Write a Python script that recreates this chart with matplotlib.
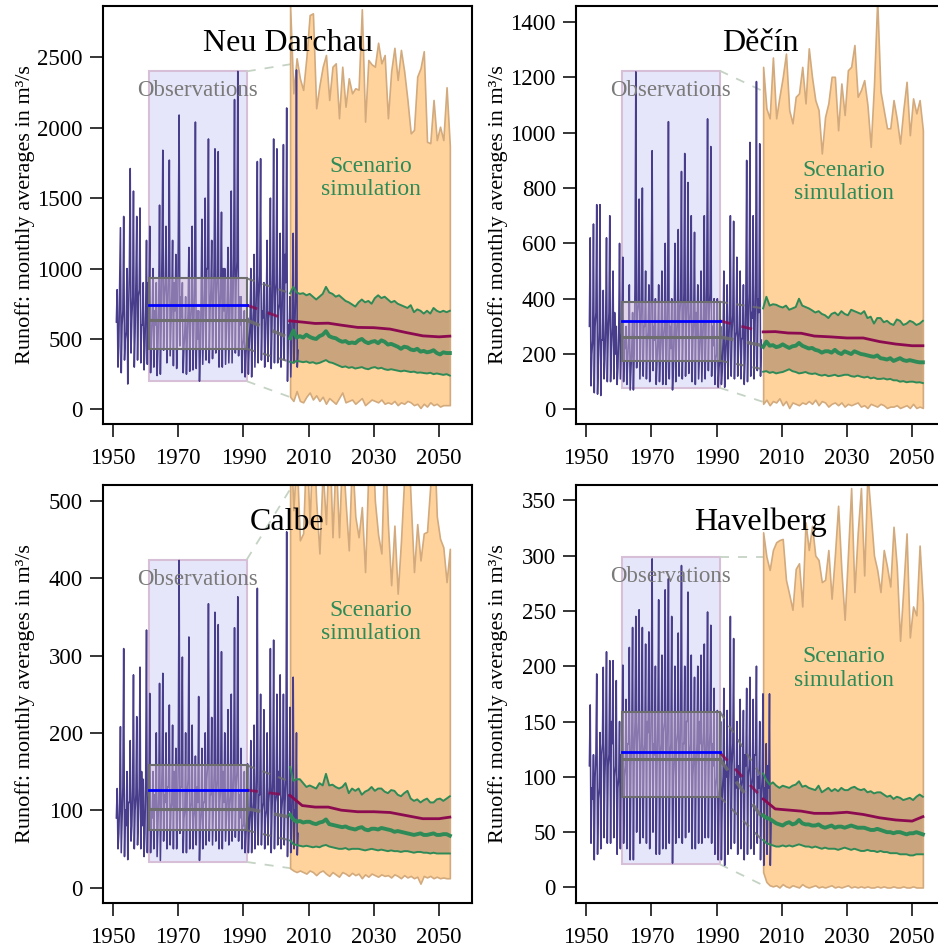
import numpy as np
import matplotlib.pyplot as plt
from matplotlib.patches import Rectangle

plt.rcParams['font.family'] = ['Liberation Serif', 'DejaVu Serif']

YLABEL = 'Runoff: monthly averages in m³/s'

# ---------------------------------------------------------------------------
# Observed runoff: four values per year (winter, spring peak, autumn low,
# early-winter rise)
# ---------------------------------------------------------------------------
obs_start = 1951

# Neu Darchau 1951-2006
nd_mid = [620, 900, 700, 550, 1000, 800, 900, 850, 600, 700,
          800, 650, 600, 750, 1100, 900, 950, 800, 700, 1200,
          650, 550, 700, 750, 900, 500, 800, 850, 1000, 850,
          1050, 950, 850, 700, 800, 850, 1100, 1050, 600, 500,
          480, 600, 700, 900, 950, 650, 750, 700, 1000, 900,
          750, 950, 900, 500, 700, 800]
nd_peak = [850, 1290, 1370, 1000, 1710, 1550, 1370, 1430, 900, 1200,
           1300, 1000, 900, 1450, 1840, 1300, 1770, 1200, 1100, 2090,
           900, 800, 1150, 1300, 2040, 700, 1350, 1500, 1920, 1200,
           1850, 1830, 1400, 1000, 1150, 1550, 2200, 2400, 800, 700,
           650, 1000, 1100, 1760, 1780, 900, 1200, 1500, 1920, 1850,
           1250, 1880, 2140, 800, 1250, 2410]
nd_low = [300, 260, 350, 180, 400, 300, 350, 330, 280, 320,
          260, 300, 240, 250, 420, 330, 380, 310, 290, 450,
          260, 250, 270, 280, 290, 200, 320, 350, 330, 360,
          400, 300, 300, 320, 330, 330, 400, 380, 260, 230,
          250, 230, 300, 330, 350, 300, 340, 290, 330, 330,
          300, 350, 200, 230, 330, 300]
nd_sec = [450, 600, 500, 700, 650, 550, 800, 600, 450, 900,
          500, 700, 450, 600, 800, 700, 600, 900, 550, 800,
          450, 500, 600, 550, 700, 400, 600, 1000, 700, 650,
          800, 700, 1000, 550, 600, 700, 900, 800, 450, 400,
          450, 550, 600, 800, 700, 500, 650, 600, 800, 700,
          550, 1100, 600, 450, 600, 420]

# Dečín 1951-2003
de_mid = [300, 250, 350, 280, 250, 320, 350, 300, 200, 280,
          300, 220, 250, 220, 450, 380, 400, 300, 280, 450,
          250, 250, 280, 300, 400, 220, 300, 320, 400, 420,
          400, 350, 330, 260, 280, 340, 450, 420, 230, 200,
          180, 250, 260, 350, 340, 280, 300, 260, 400, 420,
          330, 450, 350]
de_peak = [620, 670, 740, 740, 430, 620, 700, 500, 300, 600,
           550, 300, 450, 350, 1220, 760, 800, 500, 450, 935,
           400, 450, 500, 600, 1040, 400, 600, 650, 860, 925,
           820, 700, 640, 450, 500, 700, 1050, 950, 400, 400,
           300, 500, 450, 700, 680, 550, 500, 450, 900, 965,
           700, 1185, 960]
de_low = [85, 60, 55, 50, 110, 100, 100, 110, 90, 110,
          100, 90, 70, 70, 150, 110, 120, 110, 100, 140,
          90, 100, 90, 90, 110, 70, 100, 120, 110, 120,
          130, 100, 90, 110, 100, 110, 140, 120, 90, 80,
          90, 80, 110, 120, 110, 120, 110, 90, 100, 120,
          110, 140, 120]
de_sec = [200, 300, 180, 250, 180, 260, 220, 350, 150, 200,
          250, 180, 150, 200, 350, 250, 300, 250, 200, 300,
          180, 200, 250, 200, 300, 150, 250, 350, 280, 300,
          300, 250, 350, 200, 220, 260, 350, 300, 180, 150,
          140, 180, 220, 280, 260, 220, 250, 180, 300, 350,
          250, 400, 250]

# Calbe 1951-2006
ca_mid = [90, 110, 130, 80, 110, 130, 120, 130, 80, 140,
          120, 90, 100, 120, 150, 110, 130, 110, 100, 170,
          130, 100, 140, 110, 100, 110, 100, 110, 160, 120,
          150, 140, 130, 110, 120, 120, 150, 150, 90, 80,
          85, 100, 110, 150, 120, 110, 100, 130, 140, 120,
          120, 120, 140, 100, 120, 90]
ca_peak = [128, 208, 309, 150, 190, 275, 221, 285, 140, 333,
           251, 150, 200, 264, 277, 200, 236, 210, 180, 423,
           298, 200, 324, 210, 170, 247, 180, 200, 367, 220,
           356, 340, 305, 200, 230, 250, 336, 376, 180, 150,
           160, 190, 210, 387, 250, 230, 200, 309, 320, 250,
           275, 250, 460, 233, 272, 200]
ca_low = [50, 45, 40, 36, 60, 50, 55, 50, 40, 45,
          45, 50, 40, 35, 60, 50, 55, 50, 50, 70,
          45, 45, 50, 50, 55, 35, 50, 55, 60, 55,
          60, 50, 50, 60, 55, 60, 65, 60, 50, 45,
          45, 45, 50, 55, 55, 50, 55, 45, 50, 55,
          50, 55, 40, 45, 50, 42]
ca_sec = [70, 90, 100, 110, 80, 100, 90, 150, 70, 110,
          100, 120, 80, 90, 120, 130, 100, 150, 90, 130,
          90, 120, 100, 90, 130, 80, 110, 140, 120, 100,
          120, 110, 150, 90, 100, 110, 130, 120, 80, 70,
          75, 90, 90, 120, 100, 90, 110, 100, 110, 150,
          100, 110, 120, 80, 100, 70]

# Havelberg 1951-2006
ha_mid = [110, 80, 120, 90, 130, 130, 120, 130, 110, 100,
          120, 110, 130, 140, 150, 150, 140, 130, 140, 170,
          120, 150, 130, 150, 160, 130, 120, 140, 160, 130,
          150, 130, 120, 130, 130, 140, 140, 140, 110, 100,
          90, 100, 100, 130, 130, 90, 100, 100, 110, 110,
          100, 120, 90, 100, 80, 90]
ha_peak = [165, 120, 193, 140, 199, 213, 205, 205, 187, 150,
           201, 170, 217, 235, 245, 251, 235, 220, 231, 297,
           200, 260, 210, 269, 279, 245, 200, 230, 291, 200,
           267, 210, 190, 200, 210, 220, 249, 237, 180, 160,
           150, 180, 160, 245, 225, 150, 170, 160, 180, 190,
           170, 200, 150, 175, 130, 175]
ha_low = [40, 25, 30, 35, 45, 40, 40, 45, 30, 35,
          40, 35, 25, 25, 50, 40, 45, 40, 35, 50,
          30, 30, 35, 35, 40, 22, 40, 45, 40, 45,
          50, 35, 35, 40, 40, 45, 45, 40, 30, 25,
          25, 20, 30, 35, 40, 30, 35, 25, 30, 35,
          30, 40, 25, 20, 30, 20]
ha_sec = [90, 100, 80, 120, 100, 110, 150, 100, 90, 120,
          100, 130, 110, 120, 130, 110, 120, 150, 110, 130,
          110, 120, 140, 110, 120, 100, 130, 110, 130, 150,
          120, 100, 110, 150, 120, 110, 120, 130, 90, 80,
          80, 110, 90, 110, 100, 110, 90, 120, 100, 90,
          120, 100, 80, 90, 110, 60]

# reference period 1961-1990: [min, max], [q25, median, q75], mean
nd_ref_range, nd_ref_box, nd_ref_mean = [200, 2400], [430, 634, 930], 741
de_ref_range, de_ref_box, de_ref_mean = [78, 1224], [176, 262, 389], 320
ca_ref_range, ca_ref_box, ca_ref_mean = [33, 424], [74, 102, 158], 126
ha_ref_range, ha_ref_box, ha_ref_mean = [21, 299], [82, 116, 159], 122

# ---------------------------------------------------------------------------
# Scenario ensemble 2004-2053: envelope, 25/50/75 % quantiles, smoothed mean
# ---------------------------------------------------------------------------
scen_years = np.arange(2004, 2054) + 0.3
trend_years = [2004.3, 2008, 2012, 2016, 2020, 2025, 2030, 2035, 2040, 2045, 2050, 2053.3]

nd_env_hi = [2870, 2244, 2493, 2350, 2268, 2500, 2800, 2812, 2138, 2300,
             2433, 2516, 2197, 2433, 2457, 2067, 2433, 2149, 2351, 2244,
             2280, 2270, 2841, 2043, 2481, 2450, 2433, 2603, 2457, 2516,
             2067, 2400, 2567, 2339, 2552, 2400, 2197, 1960, 1984, 2363,
             2422, 2543, 1900, 1890, 2197, 1912, 2007, 1912, 2287, 1870]
nd_env_lo = [90, 60, 130, 60, 50, 90, 120, 70, 100, 60,
             90, 40, 80, 60, 40, 80, 120, 50, 60, 70,
             40, 60, 80, 30, 50, 70, 60, 50, 70, 40,
             50, 40, 60, 30, 50, 40, 60, 50, 30, 40,
             10, 40, 20, 50, 30, 40, 20, 30, 30, 30]
nd_q75 = [824, 870, 830, 820, 825, 810, 820, 800, 780, 800,
          820, 870, 830, 820, 800, 810, 790, 770, 760, 745,
          730, 760, 780, 760, 770, 750, 790, 810, 790, 800,
          780, 760, 770, 750, 740, 730, 720, 740, 690, 710,
          700, 680, 700, 680, 720, 700, 690, 700, 690, 700]
nd_q50 = [505, 560, 510, 520, 510, 530, 515, 505, 500, 520,
          530, 555, 520, 510, 505, 490, 480, 485, 470, 475,
          470, 490, 500, 480, 470, 480, 485, 470, 490, 480,
          460, 465, 455, 445, 430, 445, 440, 425, 420, 430,
          410, 415, 405, 410, 420, 400, 390, 405, 400, 400]
nd_q25 = [338, 330, 345, 340, 335, 340, 330, 335, 325, 330,
          340, 350, 335, 330, 320, 310, 300, 305, 295, 300,
          290, 295, 300, 290, 285, 295, 300, 290, 295, 285,
          280, 285, 280, 275, 270, 275, 270, 265, 268, 260,
          262, 258, 255, 260, 250, 255, 250, 245, 250, 240]
nd_trend = [628, 620, 610, 612, 598, 582, 580, 570, 545, 522, 515, 520]

de_env_hi = [1238, 1088, 1052, 1272, 1052, 1130, 1200, 1286, 1082, 1034,
             1130, 1142, 1238, 1106, 1305, 1200, 1118, 1082, 925, 1057,
             1106, 1202, 1202, 1009, 1178, 1064, 1226, 1238, 1317, 1130,
             1154, 1190, 1100, 949, 1172, 1480, 1150, 1082, 1016, 1016,
             1118, 1050, 961, 1082, 1184, 991, 1124, 1070, 1118, 1009]
de_env_lo = [20, 35, 15, 30, 25, 40, 15, 30, 5, 25,
             20, 15, 25, 20, 30, 20, 35, 15, 30, 25,
             10, 20, 25, 15, 25, 10, 20, 15, 20, 25,
             10, 15, 5, 20, 15, 10, 20, 15, 5, 10,
             10, 15, 5, 10, 15, 5, 20, 5, 10, 5]
de_q75 = [365, 407, 375, 380, 378, 372, 368, 375, 360, 365,
          370, 400, 375, 370, 365, 358, 350, 355, 345, 340,
          330, 345, 350, 340, 355, 345, 340, 360, 355, 350,
          345, 355, 330, 335, 310, 330, 330, 315, 320, 310,
          305, 325, 320, 305, 310, 320, 315, 305, 310, 320]
de_q50 = [226, 245, 230, 232, 225, 228, 235, 228, 222, 228,
          230, 240, 230, 225, 220, 222, 215, 212, 205, 210,
          210, 205, 215, 205, 200, 210, 205, 200, 210, 205,
          200, 198, 195, 192, 190, 195, 185, 183, 180, 185,
          175, 180, 185, 178, 175, 178, 175, 172, 170, 170]
de_q25 = [136, 138, 132, 135, 130, 133, 135, 140, 145, 138,
          135, 130, 132, 135, 130, 128, 130, 125, 122, 125,
          120, 122, 125, 120, 122, 125, 125, 120, 118, 122,
          118, 115, 118, 112, 115, 110, 110, 112, 108, 110,
          105, 105, 100, 102, 98, 100, 100, 97, 98, 95]
de_trend = [280, 281, 276, 275, 265, 262, 258, 258, 245, 236, 230, 230]

ca_env_hi = [600, 488, 560, 449, 458, 580, 470, 600, 500, 432,
             540, 470, 590, 453, 560, 453, 570, 500, 436, 560,
             480, 453, 492, 408, 540, 610, 500, 456, 432, 580,
             470, 391, 468, 380, 447, 530, 600, 500, 408, 470,
             423, 458, 460, 520, 600, 480, 451, 440, 395, 438]
ca_env_lo = [25, 22, 20, 22, 20, 18, 22, 20, 16, 20,
             22, 18, 15, 20, 17, 14, 20, 18, 15, 19,
             16, 18, 12, 17, 14, 18, 16, 14, 17, 15,
             16, 13, 17, 15, 12, 16, 13, 15, 12, 14,
             5, 15, 13, 15, 12, 14, 12, 13, 12, 12]
ca_q75 = [156, 138, 140, 140, 135, 130, 132, 130, 128, 135,
          132, 147, 132, 133, 130, 128, 130, 135, 122, 128,
          125, 128, 120, 124, 126, 130, 125, 128, 128, 124,
          122, 126, 125, 120, 118, 122, 125, 115, 112, 114,
          110, 113, 115, 110, 110, 114, 115, 112, 115, 118]
ca_q50 = [94, 88, 85, 86, 84, 85, 85, 83, 82, 84,
          85, 88, 82, 81, 80, 79, 78, 79, 77, 76,
          75, 77, 78, 75, 74, 76, 76, 75, 77, 76,
          75, 74, 72, 73, 72, 71, 70, 69, 68, 69,
          70, 68, 68, 69, 70, 68, 68, 69, 69, 67]
ca_q25 = [61, 56, 55, 54, 53, 54, 53, 52, 53, 52,
          54, 55, 53, 52, 51, 50, 50, 51, 49, 50,
          50, 50, 49, 48, 49, 50, 49, 48, 49, 48,
          47, 48, 47, 47, 46, 47, 47, 46, 45, 46,
          46, 45, 45, 44, 45, 44, 44, 44, 44, 44]
ca_trend = [119, 106, 104, 104, 100, 98, 98, 97, 93, 89, 89, 91]

ha_env_hi = [321, 299, 287, 305, 312, 314, 315, 278, 265, 251,
             288, 293, 254, 330, 305, 327, 300, 296, 276, 278,
             305, 261, 300, 345, 287, 242, 300, 361, 267, 320,
             361, 282, 375, 338, 300, 287, 267, 305, 290, 272,
             326, 290, 223, 270, 320, 226, 254, 246, 309, 257]
ha_env_lo = [14, 5, 2, 1, 2, 0, 3, 1, 0, 2,
             1, 0, 3, 1, 0, 1, 2, 0, 1, 0,
             1, 2, 0, 1, 0, 1, 2, 0, 1, 0,
             1, 0, 1, 0, 0, 1, 0, 1, 0, 0,
             1, 0, 0, 1, 0, 0, 1, 0, 0, 0]
ha_q75 = [103, 97, 93, 95, 92, 90, 92, 91, 90, 92,
          93, 96, 91, 92, 90, 89, 88, 92, 86, 88,
          90, 87, 89, 87, 90, 88, 88, 90, 91, 89,
          88, 89, 86, 87, 85, 86, 86, 84, 82, 83,
          80, 82, 81, 79, 80, 81, 79, 82, 84, 82]
ha_q50 = [65, 63, 62, 60, 58, 57, 56, 58, 59, 57,
          58, 61, 58, 57, 57, 56, 56, 57, 55, 54,
          55, 56, 54, 55, 55, 54, 55, 56, 55, 54,
          54, 54, 53, 52, 52, 53, 52, 51, 50, 50,
          49, 50, 50, 49, 48, 49, 49, 50, 49, 48]
ha_q25 = [43, 40, 39, 38, 37, 37, 38, 37, 38, 37,
          38, 39, 38, 37, 37, 36, 37, 36, 35, 36,
          35, 35, 35, 34, 35, 36, 35, 34, 35, 34,
          33, 33, 34, 33, 33, 32, 33, 32, 32, 31,
          31, 31, 30, 30, 30, 29, 29, 30, 30, 30]
ha_trend = [80, 71, 70, 69, 67, 67, 68, 66, 63, 61, 60, 64]

# end points of the dashed links at the start of the scenario period
nd_link_range, nd_link_box = [87, 2450], [338, 505, 824]
de_link_range, de_link_box = [27, 1150], [145, 230, 365]
ca_link_range, ca_link_box = [25, 515], [61, 91, 137]
ha_link_range, ha_link_box = [2, 299], [42, 62, 98]

# colours
C_OBS = '#483d8b'
C_REF = '#e6e6fa'
C_REF_EDGE = '#d8bfd8'
C_BOX = '#6e6e6e'
C_MEAN = '#0000ff'
C_ENV = '#ffd39b'
C_ENV_EDGE = '#d2aa7d'
C_IQR = '#c9a47c'
C_Q = '#2e8b57'
C_TREND = '#8b0a50'
C_LINK = '#c5d3c5'
C_TEXT_OBS = '#7a7a7a'

REF_PERIOD = (1961, 1991)


def draw_station(ax, name, obs, ref_range, ref_box, ref_mean,
                 env_hi, env_lo, q75, q50, q25, trend, link_range, link_box,
                 ylim, yticks, scen_label_y):
    series = np.column_stack(obs).ravel()
    t_obs = obs_start + np.arange(len(series)) / float(len(obs))
    x0, x1 = REF_PERIOD
    xs = scen_years[0]

    # reference window (min..max of the period)
    ax.add_patch(Rectangle((x0, ref_range[0]), x1 - x0, ref_range[1] - ref_range[0],
                           facecolor=C_REF, edgecolor=C_REF_EDGE, lw=1.5, zorder=1))
    for y0, y1 in zip(ref_range, link_range):
        ax.plot([x1, xs], [y0, y1], color=C_LINK, lw=1.3, ls=(0, (5, 5)), zorder=1.5)

    # scenario envelope and inter-quartile band
    ax.fill_between(scen_years, env_lo, env_hi, facecolor=C_ENV,
                    edgecolor=C_ENV_EDGE, lw=1.2, zorder=2)
    ax.fill_between(scen_years, q25, q75, facecolor=C_IQR, edgecolor='none', zorder=2.1)

    # observed monthly runoff
    ax.plot(t_obs, series, color=C_OBS, lw=1.15, zorder=3)

    # box of the reference period
    ax.add_patch(Rectangle((x0, ref_box[0]), x1 - x0, ref_box[2] - ref_box[0],
                           facecolor=C_REF_EDGE, alpha=0.45, edgecolor='none', zorder=3.5))
    ax.add_patch(Rectangle((x0, ref_box[0]), x1 - x0, ref_box[2] - ref_box[0],
                           facecolor='none', edgecolor=C_BOX, lw=1.5, zorder=4))
    ax.plot([x0, x1], [ref_box[1]] * 2, color=C_BOX, lw=2.2, zorder=4)
    for y0, y1, w in zip(ref_box, link_box, [1.5, 2.5, 1.5]):
        ax.plot([x1, xs], [y0, y1], color=C_BOX, lw=w, ls=(0, (4, 4)),
                alpha=0.85, zorder=4)

    # quantiles of the scenario ensemble
    ax.plot(scen_years, q75, color=C_Q, lw=1.4, zorder=5)
    ax.plot(scen_years, q25, color=C_Q, lw=1.4, zorder=5)
    ax.plot(scen_years, q50, color=C_Q, lw=2.8, zorder=5)

    # mean: observed reference value and smoothed scenario trend
    ax.plot(trend_years, trend, color=C_TREND, lw=2, zorder=5.2)
    ax.plot([x1, xs], [ref_mean, trend[0]], color=C_TREND, lw=2,
            ls=(0, (4, 4)), alpha=0.8, zorder=5.2)
    ax.plot([x0, x1], [ref_mean, ref_mean], color=C_MEAN, lw=2, zorder=5.3)

    # labels
    ax.text(0.5, 0.91, name, transform=ax.transAxes, ha='center', va='center',
            fontsize=23, zorder=6)
    ax.annotate('Observations', xy=(1975.8, ref_range[1]), xytext=(0, -14),
                textcoords='offset points', ha='center', va='center',
                color=C_TEXT_OBS, fontsize=16.5, zorder=6)
    ax.text(2029.1, scen_label_y, 'Scenario\nsimulation', ha='center', va='center',
            color=C_Q, fontsize=17, linespacing=1.15, zorder=6)
    ax.text(-0.211, 0.5, YLABEL, transform=ax.transAxes, rotation=90,
            ha='center', va='center', fontsize=16)

    ax.set_xlim(1946.9, 2060.1)
    ax.set_ylim(*ylim)
    ax.set_xticks(np.arange(1950, 2051, 20))
    ax.set_yticks(yticks)
    ax.tick_params(direction='out', length=9.5, width=1.1, labelsize=16.5)
    ax.tick_params(axis='x', pad=8)
    ax.tick_params(axis='y', pad=5)
    for sp in ax.spines.values():
        sp.set_linewidth(1.5)


fig = plt.figure(figsize=(9.38, 9.52), dpi=100)
w, h = 0.3934, 0.4391
ax_nd = fig.add_axes([0.1098, 0.5546, w, h])
ax_de = fig.add_axes([0.6141, 0.5546, w, h])
ax_ca = fig.add_axes([0.1098, 0.0515, w, h])
ax_ha = fig.add_axes([0.6141, 0.0515, w, h])

draw_station(ax_nd, 'Neu Darchau', [nd_mid, nd_peak, nd_low, nd_sec],
             nd_ref_range, nd_ref_box, nd_ref_mean,
             nd_env_hi, nd_env_lo, nd_q75, nd_q50, nd_q25, nd_trend,
             nd_link_range, nd_link_box,
             (-104, 2864), np.arange(0, 2501, 500), 1643)
draw_station(ax_de, 'Děčín', [de_mid, de_peak, de_low, de_sec],
             de_ref_range, de_ref_box, de_ref_mean,
             de_env_hi, de_env_lo, de_q75, de_q50, de_q25, de_trend,
             de_link_range, de_link_box,
             (-53, 1458), np.arange(0, 1401, 200), 821)
draw_station(ax_ca, 'Calbe', [ca_mid, ca_peak, ca_low, ca_sec],
             ca_ref_range, ca_ref_box, ca_ref_mean,
             ca_env_hi, ca_env_lo, ca_q75, ca_q50, ca_q25, ca_trend,
             ca_link_range, ca_link_box,
             (-20, 520.6), np.arange(0, 501, 100), 343)
draw_station(ax_ha, 'Havelberg', [ha_mid, ha_peak, ha_low, ha_sec],
             ha_ref_range, ha_ref_box, ha_ref_mean,
             ha_env_hi, ha_env_lo, ha_q75, ha_q50, ha_q25, ha_trend,
             ha_link_range, ha_link_box,
             (-14, 363.8), np.arange(0, 351, 50), 198)

fig.savefig('out.png', dpi=100)
